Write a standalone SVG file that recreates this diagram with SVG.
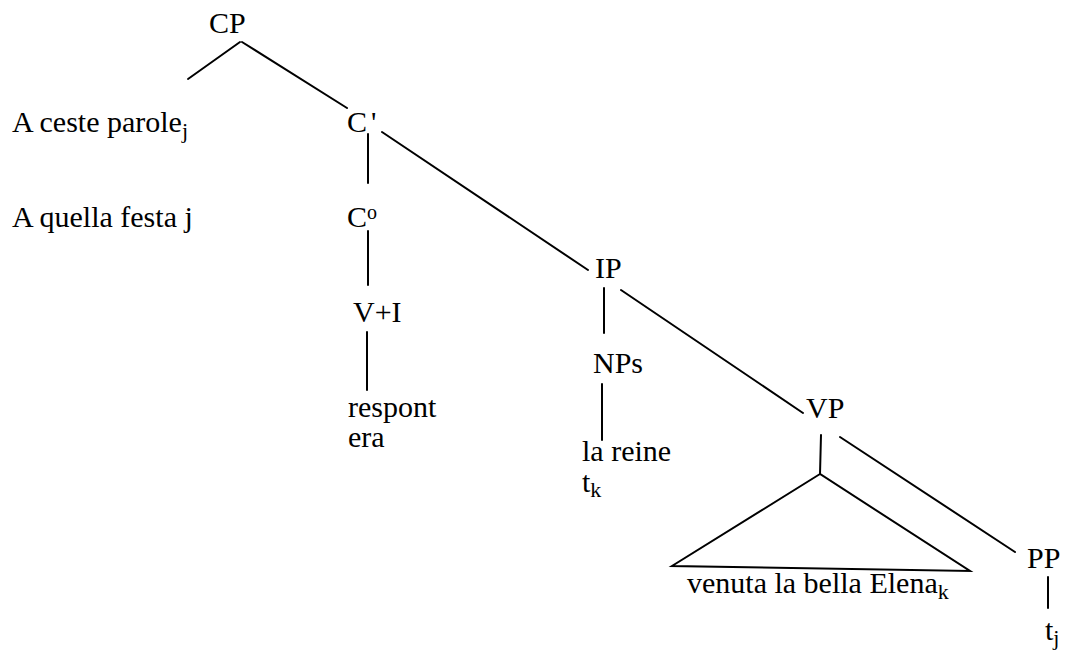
<svg xmlns="http://www.w3.org/2000/svg" width="1068" height="652" viewBox="0 0 1068 652">
<style>
text{font-size:30px;fill:#000}
.sub{font-size:22px}
.sup{font-size:20px}
line,polygon{stroke:#000;stroke-width:2;fill:none;stroke-linecap:round}
</style>
<rect width="1068" height="652" fill="#fff"/>
<g id="connectors">
<line x1="240" y1="42" x2="188" y2="79"/>
<line x1="242" y1="42" x2="347" y2="108"/>
<line x1="368" y1="134" x2="368" y2="183"/>
<line x1="382" y1="132" x2="588" y2="270"/>
<line x1="368" y1="231" x2="368" y2="285"/>
<line x1="367" y1="332" x2="367" y2="390"/>
<line x1="604" y1="288" x2="604" y2="333"/>
<line x1="602" y1="384" x2="602" y2="440"/>
<line x1="621" y1="290" x2="803" y2="413"/>
<line x1="821" y1="435" x2="820" y2="474"/>
<line x1="840" y1="437" x2="1015" y2="552"/>
<line x1="1048" y1="577" x2="1048" y2="608"/>
<polygon points="820,474 672,566 970,571" stroke-linejoin="miter"/>
</g>
<g font-family="Liberation Serif, Times New Roman, Tinos, DejaVu Serif, serif">
<g id="CP"><text x="209" y="33">CP</text></g>
<g id="spec1"><text x="12" y="132">A ceste parole<tspan class="sub" dy="6">j</tspan></text></g>
<g id="spec2"><text x="12" y="227">A quella festa j</text></g>
<g id="Cbar"><text x="347" y="132">C<tspan dx="4">'</tspan></text></g>
<g id="C0"><text x="347" y="227">C<tspan class="sup" dy="-8">o</tspan></text></g>
<g id="VI"><text x="353" y="322">V+I</text></g>
<g id="verb"><text x="348" y="417">respont</text><text x="348" y="447">era</text></g>
<g id="IP"><text x="595" y="278">IP</text></g>
<g id="NPs"><text x="593" y="373">NPs</text></g>
<g id="subj"><text x="582" y="461">la reine</text><text x="582" y="492">t<tspan class="sub" dy="5">k</tspan></text></g>
<g id="VP"><text x="806" y="418">VP</text></g>
<g id="triangle"><text x="687" y="593">venuta la bella Elena<tspan class="sub" dy="6">k</tspan></text></g>
<g id="PP"><text x="1027" y="568">PP</text></g>
<g id="trace"><text x="1045" y="640">t<tspan class="sub" dy="5">j</tspan></text></g>
</g>
</svg>
